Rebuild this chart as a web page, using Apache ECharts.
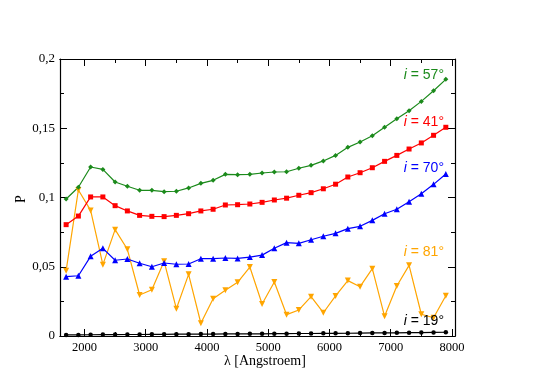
<!DOCTYPE html>
<html>
<head>
<meta charset="utf-8">
<script src="https://cdn.jsdelivr.net/npm/echarts@6/dist/echarts.min.js"></script>
<style>
  html, body { margin: 0; padding: 0; background: #fff; }
  #chart { width: 545px; height: 385px; }
</style>
</head>
<body>
<div id="chart"></div>
<script>
// wavelengths in Angstroem
const lambda = [1700, 1900, 2100, 2300, 2500, 2700, 2900, 3100, 3300, 3500, 3700, 3900, 4100, 4300, 4500, 4700,
  4900, 5100, 5300, 5500, 5700, 5900, 6100, 6300, 6500, 6700, 6900, 7100, 7300, 7500, 7700, 7900];

const p57 = [0.0989, 0.1074, 0.1220, 0.1203, 0.1112, 0.1081, 0.1052, 0.1052, 0.1042, 0.1045, 0.1069, 0.1102,
  0.1124, 0.1167, 0.1165, 0.1167, 0.1177, 0.1184, 0.1186, 0.1211, 0.1232, 0.1264, 0.1304, 0.1362, 0.1401,
  0.1446, 0.1507, 0.1569, 0.1627, 0.1694, 0.1771, 0.1853];
const p41 = [0.0804, 0.0866, 0.1004, 0.1004, 0.0941, 0.0903, 0.0871, 0.0864, 0.0862, 0.0871, 0.0883, 0.0903,
  0.0915, 0.0946, 0.0948, 0.0953, 0.0965, 0.0982, 0.0995, 0.1016, 0.1035, 0.1063, 0.1096, 0.1148, 0.1179,
  0.1215, 0.1261, 0.1304, 0.1350, 0.1394, 0.1449, 0.1507];
const p70 = [0.0428, 0.0435, 0.0575, 0.0633, 0.0547, 0.0556, 0.0525, 0.0500, 0.0527, 0.0518, 0.0520, 0.0558,
  0.0558, 0.0563, 0.0560, 0.0570, 0.0584, 0.0633, 0.0674, 0.0669, 0.0695, 0.0720, 0.0741, 0.0775, 0.0792,
  0.0835, 0.0883, 0.0915, 0.0970, 0.1027, 0.1095, 0.1170];
const p81 = [0.0472, 0.1054, 0.0907, 0.0515, 0.0768, 0.0626, 0.0296, 0.0334, 0.0539, 0.0197, 0.0445, 0.0092,
  0.0269, 0.0330, 0.0388, 0.0498, 0.0231, 0.0390, 0.0154, 0.0188, 0.0284, 0.0168, 0.0289, 0.0400, 0.0356,
  0.0486, 0.0142, 0.0361, 0.0510, 0.0157, 0.0132, 0.0291];
const p19 = [0.0008, 0.0008, 0.0009, 0.0010, 0.0010, 0.0011, 0.0011, 0.0012, 0.0012, 0.0013, 0.0013, 0.0014,
  0.0014, 0.0015, 0.0015, 0.0016, 0.0016, 0.0017, 0.0017, 0.0018, 0.0018, 0.0019, 0.0019, 0.0020, 0.0021,
  0.0022, 0.0022, 0.0023, 0.0024, 0.0025, 0.0026, 0.0027];

const xMajor = [2000, 3000, 4000, 5000, 6000, 7000, 8000];
const xMinor = [2500, 3500, 4500, 5500, 6500, 7500];
const yLabels = ['0', '0,05', '0,1', '0,15', '0,2'];

const SERIF = '"Liberation Serif", "DejaVu Serif", serif';
const SANS = '"Liberation Sans", Arial, sans-serif';

function pairs(ys) {
  return lambda.map((x, i) => [x, ys[i]]);
}

function line(name, ys, color, symbol, size, rotate) {
  return {
    name: name,
    type: 'line',
    data: pairs(ys),
    symbol: symbol,
    symbolSize: size,
    symbolRotate: rotate || 0,
    lineStyle: { color: color, width: 1.2 },
    itemStyle: { color: color },
    animation: false,
    z: 3
  };
}

// bottom/top x axes: one set for major ticks, one for minor ticks
function xAx(pos, ticks, len, labels) {
  return {
    type: 'value',
    position: pos,
    min: 1600,
    max: 8050,
    axisLine: { show: true, lineStyle: { color: '#000', width: 1.2 } },
    axisTick: { show: true, inside: true, length: len, customValues: ticks, lineStyle: { color: '#000' } },
    axisLabel: labels
      ? {
          show: true, customValues: ticks, margin: 5, color: '#000', fontFamily: SERIF, fontSize: 12.5,
          formatter: (v) => String(v)
        }
      : { show: false },
    splitLine: { show: false }
  };
}

function yAx(pos, labels) {
  return {
    type: 'value',
    position: pos,
    min: 0,
    max: 0.2,
    interval: 0.05,
    axisLine: { show: true, lineStyle: { color: '#000', width: 1.2 } },
    axisTick: { show: true, inside: true, length: 7, lineStyle: { color: '#000' } },
    minorTick: { show: true, splitNumber: 2, length: 4, lineStyle: { color: '#000' } },
    axisLabel: labels
      ? {
          show: true, margin: 5, color: '#000', fontFamily: SERIF, fontSize: 13,
          formatter: (v) => yLabels[Math.round(v / 0.05)]
        }
      : { show: false },
    splitLine: { show: false }
  };
}

const chart = echarts.init(document.getElementById('chart'));

const xAxes = [
  xAx('bottom', xMajor, 7, true),
  xAx('bottom', xMinor, 4, false),
  xAx('top', xMajor, 7, false),
  xAx('top', xMinor, 4, false)
];

function label(text, color, y) {
  return {
    type: 'text',
    right: 545 - 444,
    top: y - 8,
    style: {
      text: '{i|i} = ' + text,
      fill: color,
      font: '14px ' + SANS,
      rich: { i: { fontStyle: 'italic', fontSize: 14, fontFamily: SANS, fill: color } }
    },
    z: 10
  };
}

chart.setOption({
  backgroundColor: '#fff',
  animation: false,
  grid: { left: 60, right: 90, top: 59, bottom: 49 },
  xAxis: xAxes,
  yAxis: [yAx('left', true), yAx('right', false)],
  series: [
    line('i = 19°', p19, '#000000', 'circle', 4.5),
    line('i = 81°', p81, '#ffa500', 'triangle', 6, 180),
    line('i = 70°', p70, '#0000ff', 'triangle', 6),
    line('i = 41°', p41, '#ff0000', 'rect', 5),
    line('i = 57°', p57, '#1b8a1b', 'diamond', 5)
  ],
  graphic: [
    label('57°', '#1b8a1b', 76),
    label('41°', '#ff0000', 123),
    label('70°', '#0000ff', 169),
    label('81°', '#ffa500', 253),
    label('19°', '#000000', 322),
    {
      type: 'text', left: 224, top: 354,
      style: { text: 'λ [Angstroem]', fill: '#000', font: '14px ' + SERIF }
    },
    {
      type: 'text', x: 14, y: 203, rotation: Math.PI / 2,
      style: { text: 'P', fill: '#000', font: '14px ' + SERIF }
    }
  ]
});
</script>
</body>
</html>
